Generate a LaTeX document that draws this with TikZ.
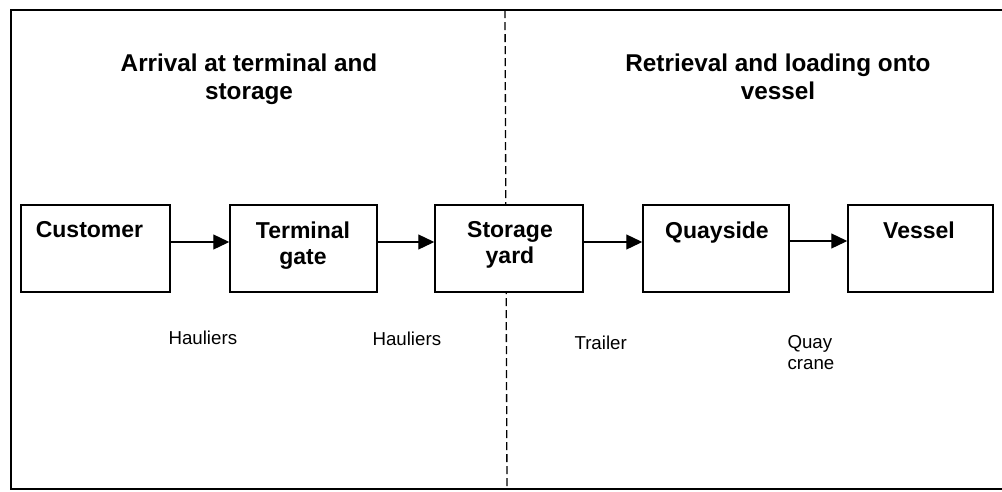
\documentclass[tikz,border=0pt]{standalone}
\usepackage{fontspec}
\setmainfont{Liberation Sans}
\usetikzlibrary{arrows.meta}
\begin{document}
\begin{tikzpicture}[x=1pt,y=-1pt,
  stagebox/.style={draw,line width=1.5pt,fill=white,minimum width=#1,minimum height=87pt,inner sep=0pt},
  boxlabel/.style={font=\fontsize{23}{26}\selectfont\bfseries,align=center,anchor=north},
  title/.style={font=\fontsize{24.3}{28}\selectfont\bfseries,align=center,anchor=north},
  small/.style={font=\fontsize{18.7}{21}\selectfont,align=left,anchor=north west},
  flow/.style={line width=1.3pt,-{Triangle[length=16pt,width=15pt]}},
  frameline/.style={line width=1.5pt}]
\useasboundingbox (0,0) rectangle (1002,491);
% frame (open on the right)
\coordinate (tl) at (11,10);
\coordinate (tr) at (1002,10);
\coordinate (bl) at (11,489);
\coordinate (br) at (1002,489);
\draw[frameline] (tr) -- (tl) -- (bl) -- (br);
% dashed divider
\coordinate (dtop) at (505,10);
\coordinate (dbot) at (507,489);
\draw[line width=1.3pt,dash pattern=on 8pt off 4pt] (dtop) -- (dbot);
% titles
\node[title] (t1) at (249,50) {Arrival at terminal and\\storage};
\node[title] (t2) at (778,50) {Retrieval and loading onto\\vessel};
% boxes
\node[stagebox=149pt] (cust) at (95.5,248.5) {};
\node[stagebox=147pt] (gate) at (303.5,248.5) {};
\node[stagebox=148pt] (yard) at (509,248.5) {};
\node[stagebox=146pt] (quay) at (716,248.5) {};
\node[stagebox=145pt] (vess) at (920.5,248.5) {};
% box labels
\node[boxlabel] (lcust) at (89.5,218) {Customer};
\node[boxlabel] (lgate) at (303,218) {Terminal\\gate};
\node[boxlabel] (lyard) at (510,218) {Storage\\yard};
\node[boxlabel] (lquay) at (717,218) {Quayside};
\node[boxlabel] (lvess) at (919,218) {Vessel};
% connectors
\draw[flow] (cust.east |- 0,242) -- (gate.west |- 0,242);
\draw[flow] (gate.east |- 0,242) -- (yard.west |- 0,242);
\draw[flow] (yard.east |- 0,242) -- (quay.west |- 0,242);
\draw[flow] (quay.east |- 0,241) -- (vess.west |- 0,241);
% mode labels
\node[small] (h1) at (165,327) {Hauliers};
\node[small] (h2) at (369,328) {Hauliers};
\node[small] (tr1) at (571,332) {Trailer};
\node[small] (qc) at (784,332) {Quay\\crane};
\end{tikzpicture}
\end{document}
